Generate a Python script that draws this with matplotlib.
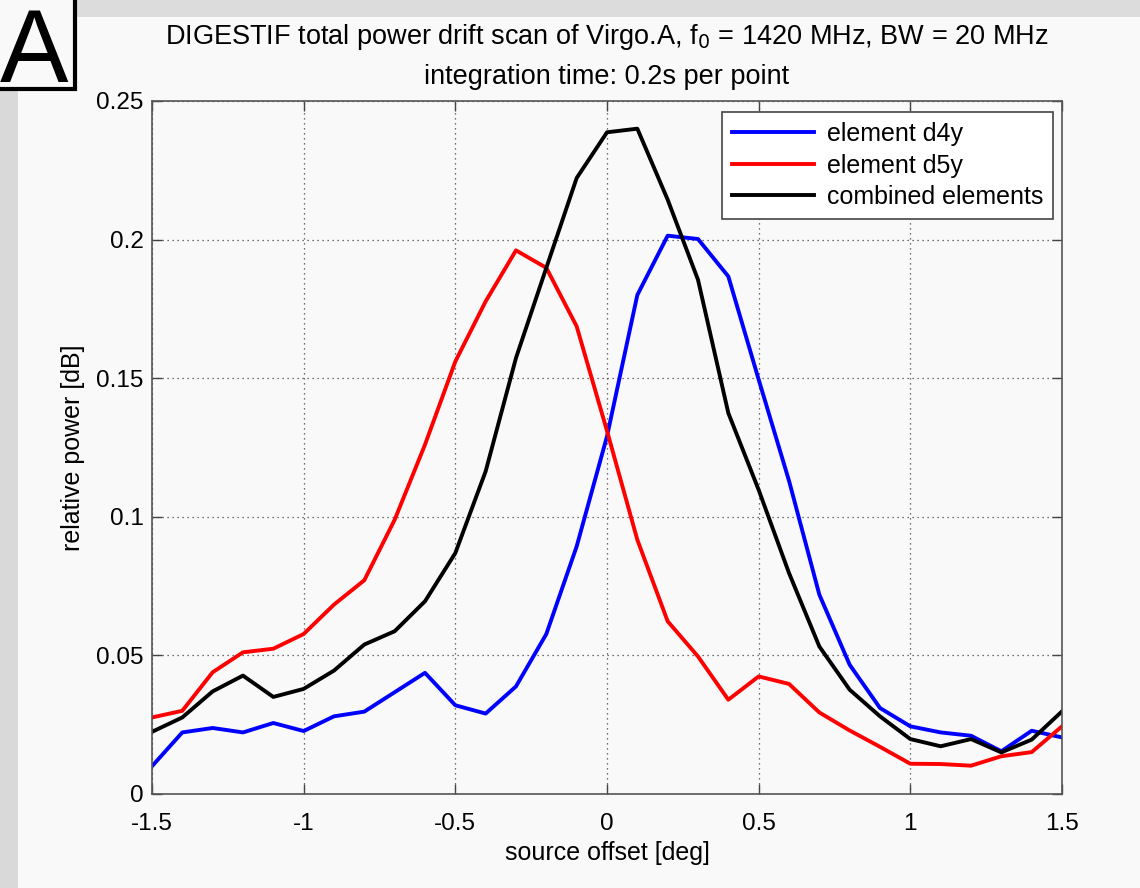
import numpy as np
from matplotlib import pyplot as plt
from matplotlib.patches import Rectangle

# source offset in degrees, one point every 0.1 deg
offset = np.round(np.arange(-1.5, 1.501, 0.1), 2)

d4y = [0.0100, 0.0222, 0.0238, 0.0222, 0.0256, 0.0227, 0.0280, 0.0297, 0.0367, 0.0437,
       0.0320, 0.0290, 0.0388, 0.0577, 0.0893, 0.1290, 0.1800, 0.2014, 0.2002, 0.1867,
       0.1495, 0.1130, 0.0719, 0.0466, 0.0310, 0.0244, 0.0222, 0.0210, 0.0154, 0.0228,
       0.0204]
d5y = [0.0276, 0.0300, 0.0439, 0.0511, 0.0524, 0.0577, 0.0683, 0.0771, 0.0989, 0.1260,
       0.1560, 0.1777, 0.1961, 0.1898, 0.1687, 0.1310, 0.0917, 0.0623, 0.0496, 0.0340,
       0.0424, 0.0397, 0.0294, 0.0229, 0.0170, 0.0109, 0.0108, 0.0102, 0.0136, 0.0151,
       0.0244]
combined = [0.0224, 0.0276, 0.0370, 0.0427, 0.0350, 0.0379, 0.0445, 0.0539, 0.0587, 0.0695,
            0.0869, 0.1164, 0.1573, 0.1898, 0.2222, 0.2387, 0.2400, 0.2144, 0.1855, 0.1374,
            0.1097, 0.0797, 0.0532, 0.0376, 0.0280, 0.0198, 0.0172, 0.0198, 0.0150, 0.0196,
            0.0298]

xticks = [-1.5, -1, -0.5, 0, 0.5, 1, 1.5]
xticklabels = ['-1.5', '-1', '-0.5', '0', '0.5', '1', '1.5']
yticks = [0, 0.05, 0.1, 0.15, 0.2, 0.25]
yticklabels = ['0', '0.05', '0.1', '0.15', '0.2', '0.25']

plt.rcParams['font.family'] = ['Liberation Sans', 'DejaVu Sans']

fig = plt.figure(figsize=(11.4, 8.88), dpi=100, facecolor='#f9f9f9')

# grey textured frame at left and top edge of the screenshot
fig.patches.append(Rectangle((0, 0), 0.016, 1, transform=fig.transFigure,
                             facecolor='#d9d9d9', edgecolor='none', zorder=0))
fig.patches.append(Rectangle((0, 0.981), 1, 0.019, transform=fig.transFigure,
                             facecolor='#dcdcdc', edgecolor='none', zorder=0))

ax = fig.add_axes([0.1333, 0.1059, 0.7983, 0.7804])
ax.set_facecolor('#f9f9f9')

ax.plot(offset, d4y, color='#0000ff', linewidth=2.8, label='element d4y')
ax.plot(offset, d5y, color='#ff0000', linewidth=2.8, label='element d5y')
ax.plot(offset, combined, color='black', linewidth=2.8, label='combined elements')

ax.set_xlim(-1.5, 1.5)
ax.set_ylim(0, 0.25)
ax.set_xticks(xticks)
ax.set_xticklabels(xticklabels)
ax.set_yticks(yticks)
ax.set_yticklabels(yticklabels)
ax.tick_params(direction='in', length=7, width=1, top=True, right=True,
               labelsize=17.5, colors='#444444', labelcolor='black')
ax.tick_params(axis='x', pad=14)
ax.tick_params(axis='y', pad=6)
for s in ax.spines.values():
    s.set_color('#555555')
    s.set_linewidth(1.2)
ax.grid(True, linestyle=(0, (1, 3)), color='#444444', linewidth=0.9)

ax.set_xlabel('source offset [deg]', fontsize=18, labelpad=4)
ax.set_ylabel('relative power [dB]', fontsize=18, labelpad=8)
ax.set_title('DIGESTIF total power drift scan of Virgo.A, f$_0$ = 1420 MHz, BW = 20 MHz\n'
             'integration time: 0.2s per point', fontsize=19.5, linespacing=1.6, pad=12)

leg = ax.legend(loc='upper right', fontsize=18, handlelength=3.3, handletextpad=0.5,
                borderpad=0.4, labelspacing=0.3, fancybox=False, framealpha=1,
                bbox_to_anchor=(0.99, 0.984), borderaxespad=0)
leg.get_frame().set_edgecolor('#444444')
leg.get_frame().set_linewidth(1.2)

# panel letter box in the corner
fig.patches.append(Rectangle((-0.01, 0.9), 0.076, 0.11, transform=fig.transFigure,
                             facecolor='#f9f9f9', edgecolor='black', linewidth=3, zorder=5))
fig.text(0.03, 0.938, 'A', fontsize=74, ha='center', va='center', zorder=6)

fig.savefig('out.png', dpi=100, facecolor=fig.get_facecolor())
